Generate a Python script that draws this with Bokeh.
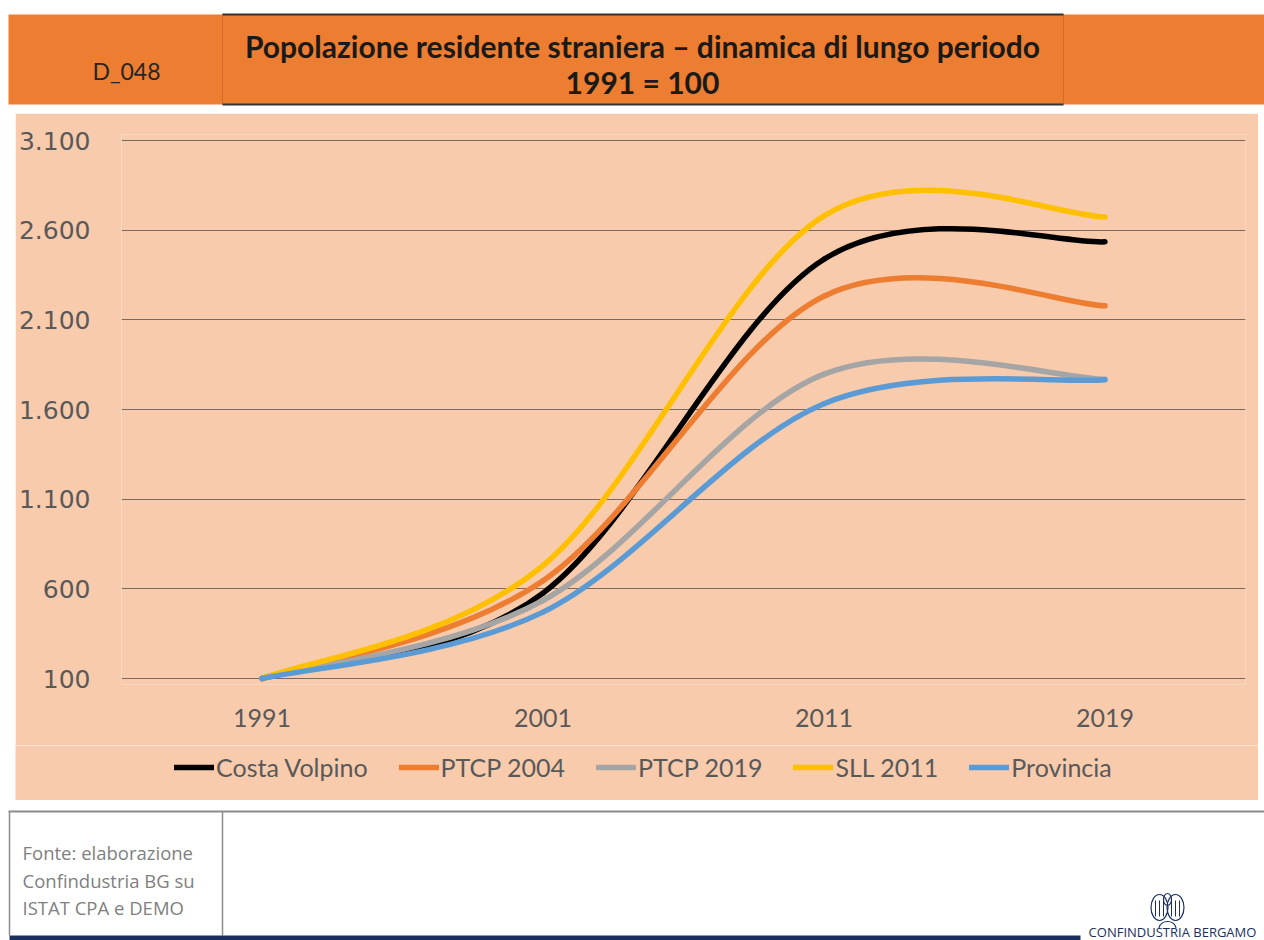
from bokeh.plotting import figure
from bokeh.models import FixedTicker, Legend, LegendItem, Range1d, ColumnDataSource
from bokeh.embed import file_html
from bokeh.resources import INLINE
from bokeh.core.properties import value

# ---------------- data ----------------
years = ["1991", "2001", "2011", "2019"]
costa_volpino = [100, 576, 2438, 2535]
ptcp_2004 = [100, 645, 2232, 2178]
ptcp_2019 = [100, 535, 1797, 1768]
sll_2011 = [100, 730, 2680, 2674]
provincia = [100, 470, 1632, 1766]
series_names = ["Costa Volpino", "PTCP 2004", "PTCP 2019", "SLL 2011", "Provincia"]
series_colors = ["#000000", "#ED7D31", "#A5A5A5", "#FFC000", "#5B9BD5"]
y_ticks = [100, 600, 1100, 1600, 2100, 2600, 3100]
y_tick_labels = ["100", "600", "1.100", "1.600", "2.100", "2.600", "3.100"]
code_label = "D_048"
title_lines = ["Popolazione residente straniera \u2013 dinamica di lungo periodo", "1991 = 100"]
source_lines = ["Fonte: elaborazione", "Confindustria BG su", "ISTAT CPA e DEMO"]
logo_text = "CONFINDUSTRIA BERGAMO"

ORANGE = "#ED7D31"
PEACH = "#F8CBAD"
TXT = "#595959"
NAVY = "#1B2F5E"
LINE_W = 5.5


def smooth_segments(ys):
    """Excel-like smoothed line: cubic Bezier control points from neighbours."""
    n = len(ys)
    pts = [(float(i), float(v)) for i, v in enumerate(ys)]
    d = dict(x0=[], y0=[], x1=[], y1=[], cx0=[], cy0=[], cx1=[], cy1=[])
    for i in range(n - 1):
        p0 = pts[i - 1] if i > 0 else pts[i]
        p1 = pts[i]
        p2 = pts[i + 1]
        p3 = pts[i + 2] if i + 2 < n else pts[i + 1]
        d["x0"].append(p1[0]); d["y0"].append(p1[1])
        d["x1"].append(p2[0]); d["y1"].append(p2[1])
        d["cx0"].append(p1[0] + (p2[0] - p0[0]) / 6.0)
        d["cy0"].append(p1[1] + (p2[1] - p0[1]) / 6.0)
        d["cx1"].append(p2[0] - (p3[0] - p1[0]) / 6.0)
        d["cy1"].append(p2[1] - (p3[1] - p1[1]) / 6.0)
    return ColumnDataSource(d)


def deco_fig(w, h, x0, x1, y0, y1, bg="white", margin=None):
    kw = {} if margin is None else {"margin": margin}
    f = figure(width=w, height=h, x_range=Range1d(x0, x1), y_range=Range1d(y1, y0),
               output_backend="svg", toolbar_location=None,
               x_axis_location=None, y_axis_location=None,
               min_border=0, outline_line_color=None,
               background_fill_color=bg, border_fill_color=bg, **kw)
    f.grid.visible = False
    return f

# ---------------- header (page y 0..113) ----------------
hdr = deco_fig(1264, 113, 0, 1264, 0, 113)
hdr.quad(left=[8], right=[1264], top=[14], bottom=[104], fill_color=ORANGE, line_color=None)
hdr.segment(x0=[222, 1063], y0=[14, 14], x1=[222, 1063], y1=[104, 104], line_color="#D46B26", line_width=1)
hdr.segment(x0=[222, 222], y0=[14, 104], x1=[1063, 1063], y1=[14, 104], line_color="#333333", line_width=2)
hdr.text(x=[126], y=[70], text=[code_label], text_font=value("Lato"), text_font_size="23px",
         text_align="center", text_baseline="middle", text_color="#262626")
hdr.text(x=[642, 642], y=[45, 81], text=title_lines, text_font=value("Lato"), text_font_size="30px",
         text_font_style="bold", text_align="center", text_baseline="middle", text_color="#1a1a1a")

# ---------------- chart (page y 113..745, x 15..1258) ----------------
px_per_unit = 538.0 / 3000.0
pad = 6.0 / px_per_unit
p = figure(width=1243, height=632, x_range=Range1d(-0.5, 3.5),
           y_range=Range1d(100 - pad, 3100 + pad),
           output_backend="svg", toolbar_location=None,
           min_border_left=105, min_border_right=13, min_border_top=21, min_border_bottom=61,
           background_fill_color=PEACH, border_fill_color=PEACH, outline_line_color=None,
           margin=(0, 0, 0, 15))

p.xgrid.visible = False
p.ygrid.ticker = FixedTicker(ticks=y_ticks)
p.ygrid.grid_line_color = "#7a6a60"
p.ygrid.grid_line_width = 1

p.yaxis.ticker = FixedTicker(ticks=y_ticks)
p.yaxis.major_label_overrides = {t: l for t, l in zip(y_ticks, y_tick_labels)}
p.yaxis.axis_line_color = None
p.yaxis.major_tick_line_color = None
p.yaxis.minor_tick_line_color = None
p.yaxis.major_label_standoff = 25
p.yaxis.major_label_text_font = "DejaVu Sans"
p.yaxis.major_label_text_font_size = "25px"
p.yaxis.major_label_text_color = TXT

p.xaxis.ticker = FixedTicker(ticks=list(range(len(years))))
p.xaxis.major_label_overrides = {i: y for i, y in enumerate(years)}
p.xaxis.axis_line_color = None
p.xaxis.major_tick_line_color = None
p.xaxis.minor_tick_line_color = None
p.xaxis.major_label_standoff = 18
p.xaxis.major_label_text_font = "Lato"
p.xaxis.major_label_text_font_size = "25px"
p.xaxis.major_label_text_color = TXT

all_series = [costa_volpino, ptcp_2004, ptcp_2019, sll_2011, provincia]
for name, vals, col in zip(series_names, all_series, series_colors):
    p.bezier(x0="x0", y0="y0", x1="x1", y1="y1", cx0="cx0", cy0="cy0", cx1="cx1", cy1="cy1",
             source=smooth_segments(vals), line_color=col, line_width=LINE_W, line_cap="round")

# ---------------- legend strip (page y 745..800, x 15..1258) ----------------
# the strip's own ranges (0..1) keep the series out of view; only their legend keys show
leg = deco_fig(1243, 55, 0, 1, 0, 1, bg=PEACH, margin=(0, 0, 0, 15))
items = []
for name, vals, col in zip(series_names, all_series, series_colors):
    key = leg.line(x=list(range(len(vals))), y=vals, line_color=col, line_width=LINE_W, line_cap="round")
    items.append(LegendItem(label=name, renderers=[key]))
legend = Legend(items=items, orientation="horizontal", location=(159, 18),
                glyph_width=40, glyph_height=20, label_standoff=2, spacing=31,
                padding=0, margin=0,
                label_text_font="Lato", label_text_font_size="25px", label_text_color=TXT,
                background_fill_alpha=0, border_line_alpha=0)
leg.add_layout(legend, "center")

# ---------------- footer (page y 800..940) ----------------
ftr = deco_fig(1264, 140, 0, 1264, 800, 940)
ftr.segment(x0=[8], y0=[811], x1=[1264], y1=[811], line_color="#8c8c8c", line_width=2)
ftr.segment(x0=[222, 9], y0=[811, 811], x1=[222, 9], y1=[935, 935], line_color="#8c8c8c", line_width=1.5)
ftr.quad(left=[9], right=[1080], top=[935], bottom=[941], fill_color=NAVY, line_color=None)
ftr.text(x=[22, 22, 22], y=[852, 880, 907], text=source_lines, text_font=value("Open Sans"),
         text_font_size="18.5px", text_align="left", text_baseline="middle", text_color="#7f7f7f")
# simplified emblem of the logo
ftr.ellipse(x=[1159, 1175], y=[907, 907], width=[17, 17], height=[26, 26],
            fill_color=None, line_color=NAVY, line_width=1.2)
ftr.ellipse(x=[1167], y=[899], width=[8], height=[12], fill_color=None, line_color=NAVY, line_width=1.2)
ftr.segment(x0=[1155, 1159, 1163, 1171, 1175, 1179], y0=[900] * 6,
            x1=[1155, 1159, 1163, 1171, 1175, 1179], y1=[916] * 6, line_color=NAVY, line_width=1)
ftr.arc(x=[1167], y=[930], radius=9, start_angle=0.3, end_angle=2.84, line_color=NAVY, line_width=1.2)
ftr.text(x=[1172], y=[931], text=[logo_text], text_font=value("Open Sans"),
         text_font_size="13px", text_align="center", text_baseline="middle", text_color=NAVY)

open("out.html", "w").write(file_html([hdr, p, leg, ftr], INLINE))
